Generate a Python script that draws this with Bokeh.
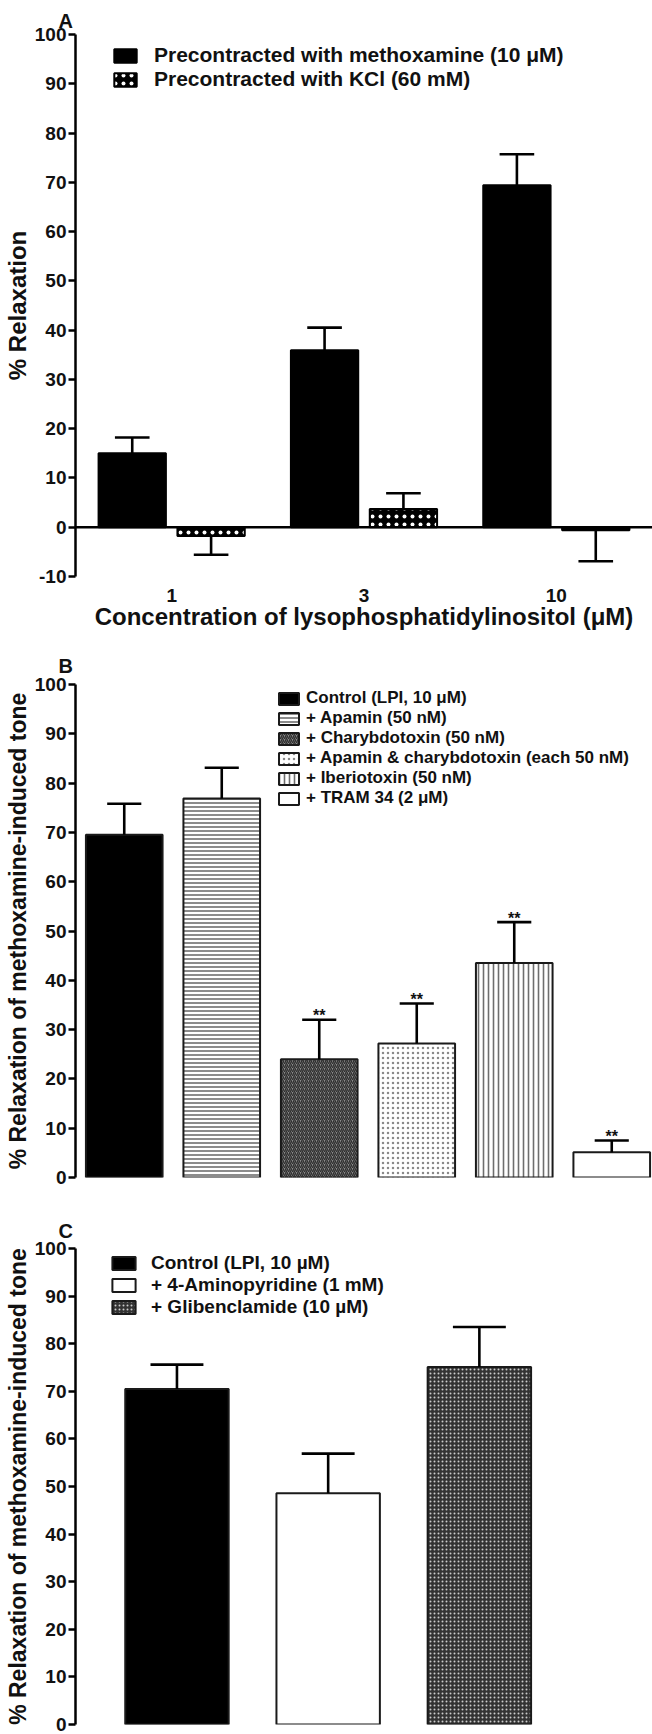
import numpy as np
from bokeh.plotting import figure
from bokeh.models import (ColumnDataSource, Legend, LegendItem, Span, Title,
                          FixedTicker, Range1d)
from bokeh.layouts import column
from bokeh.embed import file_html
from bokeh.resources import INLINE
from bokeh.core.properties import value

FONT = "Liberation Sans"

# ---------------- Panel A data ----------------
conc_labels = ["1", "3", "10"]
series_a = ["Precontracted with methoxamine (10 \u03bcM)", "Precontracted with KCl (60 mM)"]
methox_mean = [15.0, 35.9, 69.4]
methox_sem = [3.2, 4.6, 6.3]
kcl_mean = [-1.8, 3.7, -0.6]
kcl_sem = [3.8, 3.2, 6.3]

# ---------------- Panel B data ----------------
treat_b = ["Control (LPI, 10 \u03bcM)", "+ Apamin (50 nM)", "+ Charybdotoxin (50 nM)",
           "+ Apamin & charybdotoxin (each 50 nM)", "+ Iberiotoxin (50 nM)", "+ TRAM 34 (2 \u03bcM)"]
mean_b = [69.5, 76.9, 24.0, 27.2, 43.5, 5.1]
sem_b = [6.3, 6.2, 8.0, 8.1, 8.3, 2.4]
sig_b = ["", "", "**", "**", "**", "**"]

# ---------------- Panel C data ----------------
treat_c = ["Control (LPI, 10 \u00b5M)", "+ 4-Aminopyridine (1 mM)", "+ Glibenclamide (10 \u00b5M)"]
mean_c = [70.5, 48.6, 75.1]
sem_c = [5.1, 8.3, 8.4]

YLAB_BC = "% Relaxation of methoxamine-induced tone"


def err_end(means, sems):
    return [m + (s if m >= 0 else -s) for m, s in zip(means, sems)]


def make_fig(height, x_range, y_range, btop, bbottom, yticks, ylabel, ylab_size, with_x=False):
    p = figure(width=652, height=height, x_range=x_range, y_range=y_range,
               output_backend="svg", toolbar_location=None,
               x_axis_location="below" if with_x else None,
               min_border_left=72, min_border_right=0,
               min_border_top=btop, min_border_bottom=bbottom)
    p.grid.visible = False
    p.outline_line_color = None
    p.background_fill_color = "white"
    p.border_fill_color = "white"
    ya = p.yaxis[0]
    ya.ticker = FixedTicker(ticks=yticks)
    ya.major_label_overrides = {t: str(t) for t in yticks}
    ya.axis_line_width = 2.5
    ya.axis_line_color = "black"
    ya.major_tick_line_width = 2.5
    ya.major_tick_line_color = "black"
    ya.major_tick_out = 7
    ya.major_tick_in = 0
    ya.minor_tick_line_color = None
    ya.major_label_text_font = FONT
    ya.major_label_text_font_size = "19px"
    ya.major_label_text_font_style = "bold"
    ya.major_label_text_color = "#111111"
    ya.major_label_standoff = 2
    ya.axis_label = ylabel
    ya.axis_label_text_font = FONT
    ya.axis_label_text_font_size = ylab_size
    ya.axis_label_text_font_style = "bold"
    ya.axis_label_text_color = "#111111"
    ya.axis_label_standoff = 1
    return p


def add_errors(p, xs, means, sems, half_cap):
    ends = err_end(means, sems)
    src = ColumnDataSource(dict(x=xs, y0=means, y1=ends,
                                xl=[x - half_cap for x in xs], xr=[x + half_cap for x in xs]))
    p.segment(x0="x", y0="y0", x1="x", y1="y1", source=src, line_color="black", line_width=2.6)
    p.segment(x0="xl", y0="y1", x1="xr", y1="y1", source=src, line_color="black", line_width=2.6)


def panel_letter(p, text, lift):
    p.add_layout(Title(text=text, align="left", offset=-17, standoff=0,
                       padding=dict(left=0, right=0, top=0, bottom=lift),
                       text_font=FONT, text_font_size="20px", text_font_style="bold",
                       text_color="#111111"), "above")


legend_common = dict(border_line_color=None, background_fill_alpha=0, padding=0, margin=0,
                     label_text_font=FONT, label_text_font_style="bold",
                     label_text_color="#111111")

# ================= Panel A =================
pa = make_fig(640, Range1d(-0.5, 2.5), Range1d(-10, 100), 34, 64,
              list(range(-10, 101, 10)), "% Relaxation", "24px", with_x=True)
xa = np.arange(len(conc_labels))
dodge = 0.205
bw_a = 0.35
xm = list(xa - dodge)
xk = list(xa + dodge)
r_m = pa.vbar(x=xm, top=methox_mean, bottom=0, width=bw_a, fill_color="black",
              line_color="black", line_width=2)
r_k = pa.vbar(x=xk, top=kcl_mean, bottom=0, width=bw_a, fill_color="black",
              hatch_pattern="dot", hatch_color="white", hatch_scale=8, hatch_weight=4,
              line_color="black", line_width=2)
add_errors(pa, xm, methox_mean, methox_sem, 0.09)
add_errors(pa, xk, kcl_mean, kcl_sem, 0.09)
pa.add_layout(Span(location=0, dimension="width", line_color="black", line_width=2.5))

xax = pa.xaxis[0]
xax.ticker = FixedTicker(ticks=list(xa))
xax.major_label_overrides = {int(i): lab for i, lab in zip(xa, conc_labels)}
xax.axis_line_color = None
xax.major_tick_line_color = None
xax.minor_tick_line_color = None
xax.major_label_text_font = FONT
xax.major_label_text_font_size = "19px"
xax.major_label_text_font_style = "bold"
xax.major_label_text_color = "#111111"
xax.major_label_standoff = 6
xax.axis_label = "Concentration of lysophosphatidylinositol (\u03bcM)"
xax.axis_label_text_font = FONT
xax.axis_label_text_font_size = "24px"
xax.axis_label_text_font_style = "bold"
xax.axis_label_text_color = "#111111"
xax.axis_label_standoff = -2

leg_a = Legend(items=[LegendItem(label=series_a[0], renderers=[r_m]),
                      LegendItem(label=series_a[1], renderers=[r_k])],
               location=(36, 485), glyph_width=28, glyph_height=17, label_standoff=15,
               spacing=0, label_text_font_size="21px", **legend_common)
pa.add_layout(leg_a)
panel_letter(pa, "A", 3)

# ================= Panel B =================
pb = make_fig(555, Range1d(-0.5, 5.418), Range1d(0, 100), 44, 18,
              list(range(0, 101, 10)), YLAB_BC, "23px")
xb = list(range(len(treat_b)))
fill_b = ["black", "white", "#8a8a8a", "white", "white", "white"]
hatch_b = [" ", "horizontal_line", "right_diagonal_line", "dot", "vertical_line", " "]
hcol_b = ["black", "#6e6e6e", "#2e2e2e", "#8a8a8a", "#6e6e6e", "black"]
hscale_b = [4, 4, 4, 5, 5, 4]
hweight_b = [1, 1.6, 1.4, 1.6, 1.6, 1]
src_b = ColumnDataSource(dict(x=xb, top=mean_b, name=treat_b, fill=fill_b, hatch=hatch_b,
                              hcol=hcol_b, hscale=hscale_b, hweight=hweight_b))
r_b = pb.vbar(x="x", top="top", bottom=0, width=0.786, source=src_b, fill_color="fill",
              hatch_pattern="hatch", hatch_color="hcol", hatch_scale="hscale",
              hatch_weight="hweight", line_color="#1a1a1a", line_width=2)
add_errors(pb, xb, mean_b, sem_b, 0.175)
sig_src = ColumnDataSource(dict(x=xb, y=[e + 0.8 for e in err_end(mean_b, sem_b)], t=sig_b))
pb.text(x="x", y="y", text="t", source=sig_src, text_font=value(FONT), text_font_size="16px",
        text_font_style="bold", text_align="center", text_baseline="alphabetic",
        text_color="#111111")
leg_b = Legend(items=[LegendItem(label=treat_b[i], renderers=[r_b], index=i) for i in xb],
               location=(201, 369), glyph_width=25, glyph_height=15, label_standoff=5,
               spacing=0, label_text_font_size="17px", **legend_common)
pb.add_layout(leg_b)
panel_letter(pb, "B", 8)

# ================= Panel C =================
pc = make_fig(539, Range1d(-0.671, 3.145), Range1d(0, 100), 53, 10,
              list(range(0, 101, 10)), YLAB_BC, "23px")
xc = list(range(len(treat_c)))
fill_c = ["black", "white", "#333333"]
hatch_c = [" ", " ", "dot"]
hcol_c = ["black", "black", "#cccccc"]
src_c = ColumnDataSource(dict(x=xc, top=mean_c, name=treat_c, fill=fill_c, hatch=hatch_c,
                              hcol=hcol_c))
r_c = pc.vbar(x="x", top="top", bottom=0, width=0.684, source=src_c, fill_color="fill",
              hatch_pattern="hatch", hatch_color="hcol", hatch_scale=4, hatch_weight=2.2,
              line_color="#1a1a1a", line_width=2)
add_errors(pc, xc, mean_c, sem_c, 0.175)
leg_c = Legend(items=[LegendItem(label=treat_c[i], renderers=[r_c], index=i) for i in xc],
               location=(34, 406), glyph_width=29, glyph_height=16, label_standoff=13,
               spacing=0, label_text_font_size="19px", **legend_common)
pc.add_layout(leg_c)
panel_letter(pc, "C", 7)

layout = column(pa, pb, pc, spacing=0)
open("out.html", "w").write(file_html(layout, INLINE))
